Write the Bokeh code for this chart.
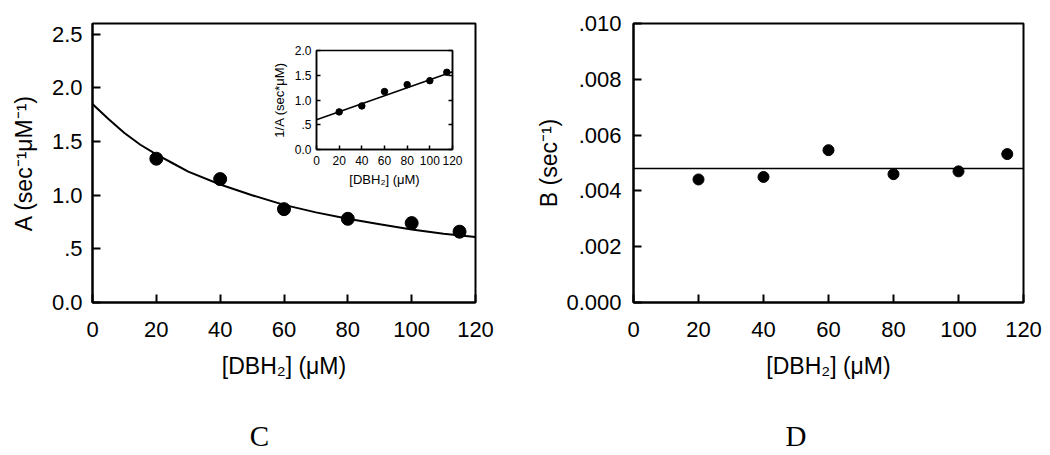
from bokeh.plotting import figure
from bokeh.layouts import row, column
from bokeh.models import Range1d, FixedTicker, CustomJSTickFormatter, Span, LinearAxis
from bokeh.embed import file_html
from bokeh.resources import INLINE

# ---------------- data ----------------
conc = [20, 40, 60, 80, 100, 115]
A_vals = [1.34, 1.15, 0.87, 0.78, 0.74, 0.66]
fit_conc = [0, 5, 10, 15, 20, 25, 30, 40, 50, 60, 70, 80, 90, 100, 110, 120]
fit_A = [1.85, 1.71, 1.58, 1.47, 1.38, 1.30, 1.22, 1.10, 1.00, 0.91, 0.84, 0.78, 0.73, 0.68, 0.64, 0.61]
inv_A = [0.76, 0.88, 1.17, 1.31, 1.39, 1.56]
inv_fit_conc = [0, 120]
inv_fit = [0.60, 1.57]
B_vals = [0.00441, 0.00450, 0.00546, 0.00460, 0.00470, 0.00532]
B_fit = 0.0048
x_ticks = [0, 20, 40, 60, 80, 100, 120]
A_ticks = [0.0, 0.5, 1.0, 1.5, 2.0, 2.5]
inv_ticks = [0.0, 0.5, 1.0, 1.5, 2.0]
B_ticks = [0.0, 0.002, 0.004, 0.006, 0.008, 0.010]

FONT = "Liberation Sans"
x_label = "[DBH\u2082] (\u03bcM)"

fmt1 = CustomJSTickFormatter(code="return tick == 0 ? '0.0' : tick.toFixed(1).replace(/^0\\./, '.');")
fmt3 = CustomJSTickFormatter(code="return tick == 0 ? '0.000' : tick.toFixed(3).replace(/^0\\./, '.');")
fmt0 = CustomJSTickFormatter(code="return tick.toFixed(0);")


def style_axis(ax, size, lsize, tick_len, lw, lab_standoff, axis_standoff):
    ax.axis_line_width = lw
    ax.axis_line_color = "black"
    ax.major_tick_in = tick_len
    ax.major_tick_out = 0
    ax.major_tick_line_width = lw
    ax.major_tick_line_color = "black"
    ax.minor_tick_line_color = None
    ax.major_label_text_font = FONT
    ax.major_label_text_font_size = size
    ax.major_label_text_color = "black"
    ax.axis_label_text_font = FONT
    ax.axis_label_text_font_size = lsize
    ax.axis_label_text_font_style = "normal"
    ax.axis_label_text_color = "black"
    ax.major_label_standoff = lab_standoff
    ax.axis_label_standoff = axis_standoff


def base_fig(width, height, xr, yr, bl, br, bt, bb):
    p = figure(width=width, height=height, x_range=xr, y_range=yr,
               output_backend="svg", toolbar_location=None,
               min_border_left=bl, min_border_right=br,
               min_border_top=bt, min_border_bottom=bb)
    p.grid.visible = False
    p.outline_line_color = "black"
    p.outline_line_alpha = 1.0
    p.background_fill_color = "white"
    p.border_fill_color = "white"
    return p


def letter_axis(letter, pos):
    # panel letter drawn as the single label of an extra, line-less axis below
    ax = LinearAxis(ticker=FixedTicker(ticks=[pos]),
                    formatter=CustomJSTickFormatter(code="return '%s';" % letter))
    ax.axis_line_color = None
    ax.major_tick_line_color = None
    ax.minor_tick_line_color = None
    ax.major_tick_in = 0
    ax.major_tick_out = 0
    ax.major_label_text_font = "Liberation Serif"
    ax.major_label_text_font_size = "29px"
    ax.major_label_text_color = "black"
    ax.major_label_standoff = 38
    return ax


# ---------------- panel C ----------------
pA = base_fig(508, 455, Range1d(0, 120), Range1d(0, 2.6), 92, 33, 23, 153)
pA.outline_line_width = 2
pA.xaxis.ticker = FixedTicker(ticks=x_ticks)
pA.xaxis.formatter = fmt0
pA.yaxis.ticker = FixedTicker(ticks=A_ticks)
pA.yaxis.formatter = fmt1
pA.xaxis.axis_label = x_label
pA.yaxis.axis_label = "A (sec\u207b\u00b9\u03bcM\u207b\u00b9)"
style_axis(pA.xaxis[0], "22px", "23px", 8, 2, 19, 13)
style_axis(pA.yaxis[0], "22px", "23px", 8, 2, 10, 12)
pA.line(fit_conc, fit_A, line_color="black", line_width=2)
pA.scatter(conc, A_vals, size=13, color="black")
pA.add_layout(letter_axis("C", 52.3), "below")

# ---------------- inset ----------------
pI = base_fig(261, 155, Range1d(0, 120), Range1d(0, 2.0), 92, 33, 8, 48)
pI.border_fill_alpha = 0
pI.outline_line_width = 1.5
pI.xaxis.ticker = FixedTicker(ticks=x_ticks)
pI.xaxis.formatter = fmt0
pI.yaxis.ticker = FixedTicker(ticks=inv_ticks)
pI.yaxis.formatter = fmt1
pI.xaxis.axis_label = x_label
pI.yaxis.axis_label = "1/A (sec*\u03bcM)"
style_axis(pI.xaxis[0], "12px", "13px", 4, 1.5, 6, 4)
style_axis(pI.yaxis[0], "12px", "13px", 4, 1.5, 5, 5)
rax = LinearAxis(ticker=FixedTicker(ticks=inv_ticks))
rax.major_label_text_font_size = "1px"
rax.major_label_text_color = None
rax.major_label_standoff = 0
rax.major_tick_in = 4
rax.major_tick_out = 0
rax.major_tick_line_width = 1.5
rax.minor_tick_line_color = None
rax.axis_line_width = 1.5
pI.add_layout(rax, "right")
pI.line(inv_fit_conc, inv_fit, line_color="black", line_width=1.5)
pI.scatter(conc, inv_A, size=6.5, color="black")
pI.margin = (-413, 0, 0, 224)

# ---------------- panel D ----------------
pB = base_fig(534, 455, Range1d(0, 120), Range1d(0, 0.010), 125, 19, 23, 153)
pB.outline_line_width = 2
pB.xaxis.ticker = FixedTicker(ticks=x_ticks)
pB.xaxis.formatter = fmt0
pB.yaxis.ticker = FixedTicker(ticks=B_ticks)
pB.yaxis.formatter = fmt3
pB.xaxis.axis_label = x_label
pB.yaxis.axis_label = "B (sec\u207b\u00b9)"
style_axis(pB.xaxis[0], "22px", "23px", 8, 2, 19, 13)
style_axis(pB.yaxis[0], "22px", "23px", 8, 2, 12, 1)
pB.add_layout(Span(location=B_fit, dimension="width", line_color="black", line_width=1.5))
pB.scatter(conc, B_vals, size=11, color="black")
pB.add_layout(letter_axis("D", 50.0), "below")

layout = row(column(pA, pI), pB)
open("out.html", "w").write(file_html(layout, INLINE))
